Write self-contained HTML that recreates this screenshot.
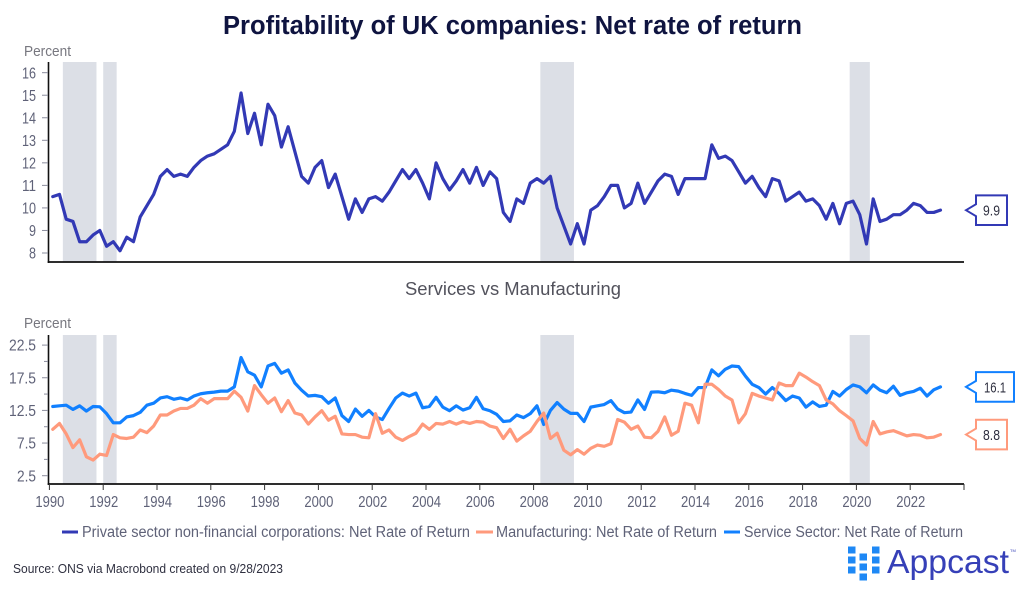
<!DOCTYPE html>
<html lang="en">
<head>
<meta charset="utf-8">
<title>Profitability of UK companies: Net rate of return</title>
<style>
html,body{margin:0;padding:0;background:#fff;}
svg{display:block;font-family:"Liberation Sans",sans-serif;}
</style>
</head>
<body>
<svg id="chart" xmlns="http://www.w3.org/2000/svg" width="1024" height="589" viewBox="0 0 1024 589">
  <rect x="0" y="0" width="1024" height="589" fill="#ffffff"/>
  <text x="223" y="34" font-size="25.5" font-weight="bold" fill="#0f1440" textLength="579" lengthAdjust="spacingAndGlyphs">Profitability of UK companies: Net rate of return</text>
  <text x="24" y="56" font-size="14.5" fill="#77777f" textLength="47" lengthAdjust="spacingAndGlyphs">Percent</text>
  <text x="405" y="295" font-size="18.5" fill="#52525c" textLength="216" lengthAdjust="spacingAndGlyphs">Services vs Manufacturing</text>
  <text x="24" y="328" font-size="14.5" fill="#77777f" textLength="47" lengthAdjust="spacingAndGlyphs">Percent</text>

  <g id="bands"></g>
  <g id="axes"></g>
  <g id="lines"></g>
  <g id="callouts"></g>

  <g>
    <g>
      <line x1="62" x2="78" y1="532" y2="532" stroke="#3239b5" stroke-width="3"/>
      <text x="82" y="537" font-size="15.5" fill="#5f6278" textLength="388" lengthAdjust="spacingAndGlyphs">Private sector non-financial corporations: Net Rate of Return</text>
    </g>
    <g>
      <line x1="476" x2="493" y1="532" y2="532" stroke="#ff9a7c" stroke-width="3"/>
      <text x="496" y="537" font-size="15.5" fill="#5f6278" textLength="221" lengthAdjust="spacingAndGlyphs">Manufacturing: Net Rate of Return</text>
    </g>
    <g>
      <line x1="724" x2="740" y1="532" y2="532" stroke="#1180ff" stroke-width="3"/>
      <text x="744" y="537" font-size="15.5" fill="#5f6278" textLength="219" lengthAdjust="spacingAndGlyphs">Service Sector: Net Rate of Return</text>
    </g>
  </g>

  <text x="13" y="573" font-size="12.5" fill="#2f3040" textLength="270" lengthAdjust="spacingAndGlyphs">Source: ONS via Macrobond created on 9/28/2023</text>

  <g>
    <g fill="#1e88f5">
      <rect x="848" y="546.5" width="7.5" height="7"/>
      <rect x="848" y="556.5" width="7.5" height="7"/>
      <rect x="848" y="566.5" width="7.5" height="7"/>
      <rect x="859.5" y="553.5" width="7.5" height="7"/>
      <rect x="859.5" y="563.5" width="7.5" height="7"/>
      <rect x="859.5" y="573.5" width="7.5" height="7"/>
      <rect x="872" y="546.5" width="7.5" height="7"/>
      <rect x="872" y="556.5" width="7.5" height="7"/>
      <rect x="872" y="566.5" width="7.5" height="7"/>
    </g>
    <text x="887" y="573" font-size="33" fill="#3640b8" textLength="122" lengthAdjust="spacingAndGlyphs">Appcast</text>
    <text x="1010" y="552" font-size="4" fill="#3640b8">TM</text>
  </g>
</svg>

<script>
const privateSector = [
  10.5,10.6,9.5,9.4, 8.5,8.5,8.8,9.0, 8.3,8.5,8.1,8.7, 8.5,9.6,10.1,10.6,
  11.4,11.7,11.4,11.5, 11.4,11.8,12.1,12.3, 12.4,12.6,12.8,13.4, 15.1,13.3,14.2,12.8,
  14.6,14.1,12.7,13.6, 12.5,11.4,11.1,11.8, 12.1,10.9,11.5,10.5, 9.5,10.4,9.8,10.4,
  10.5,10.3,10.7,11.2, 11.7,11.3,11.7,11.1, 10.4,12.0,11.3,10.8, 11.2,11.7,11.1,11.8,
  11.0,11.6,11.3,9.8, 9.4,10.4,10.2,11.1, 11.3,11.1,11.4,10.0, 9.2,8.4,9.3,8.4,
  9.9,10.1,10.5,11.0, 11.0,10.0,10.2,11.1, 10.2,10.7,11.2,11.5, 11.4,10.6,11.3,11.3,
  11.3,11.3,12.8,12.2, 12.3,12.1,11.6,11.1, 11.4,10.9,10.5,11.3, 11.2,10.3,10.5,10.7,
  10.3,10.4,10.1,9.5, 10.2,9.3,10.2,10.3, 9.7,8.4,10.4,9.4, 9.5,9.7,9.7,9.9,
  10.2,10.1,9.8,9.8, 9.9
];
const serviceSector = [
  13.1,13.2,13.3,12.65, 13.2,12.4,13.1,13.05, 12.0,10.6,10.6,11.5, 11.7,12.2,13.3,13.6,
  14.4,14.6,14.2,14.4, 14.1,14.7,15.05,15.2, 15.3,15.45,15.45,16.1, 20.6,18.4,17.9,16.1,
  19.3,19.7,18.2,18.7, 16.7,15.6,14.7,14.8, 14.6,13.6,14.4,11.7, 10.8,12.7,11.6,12.5,
  11.5,11.1,12.8,14.4, 15.15,14.7,15.15,12.9, 13.1,14.5,13,12.45, 13.2,12.55,12.9,14.5,
  12.75,12.45,11.9,10.8, 10.9,11.8,11.4,12, 13.2,10.35,12.5,13.7, 12.7,12.05,12.05,10.8,
  13,13.2,13.4,14, 12.7,12.15,12.25,14.1, 12.65,15.3,15.35,15.2, 15.6,15.45,15.1,14.8,
  16,16,18.7,17.8, 18.8,19.3,19.2,17.75, 16.5,16,15,16, 15.1,14,14.7,14.4,
  13,13.8,13.1,13.3, 15.4,14.7,15.7,16.4, 16.1,15.2,16.4,15.6, 15.2,16.2,14.8,15.2,
  15.4,15.9,14.7,15.65, 16.1
];
const manufacturing = [
  9.6,10.5,8.9,6.8, 8.0,5.4,4.9,5.8, 5.6,8.8,8.3,8.2, 8.4,9.5,9.1,10.1,
  11.8,11.8,12.4,12.8, 12.8,13.3,14.3,13.6, 14.3,14.3,14.3,15.45, 14.5,12.4,16.3,14.9,
  13.6,14.4,12.3,14.0, 12.1,11.8,10.4,11.5, 12.45,11,11.6,8.9, 8.8,8.8,8.4,8.3,
  12.0,9,9.5,8.4, 7.9,8.5,9,10.4, 9.6,10.5,10.4,10.8, 10.4,10.8,10.5,10.8,
  10.7,10.1,9.85,8.2, 9.6,7.8,8.6,9.3, 10.8,12.1,8.2,9, 6.4,5.7,6.5,5.8,
  6.7,7.2,7,7.4, 11.1,10.7,9.6,10.1, 8.4,8.3,9.3,11.5, 8.7,9.3,13.6,13.3,
  10.6,16.5,16.5,15.7, 14.7,14.1,10.6,12, 15.1,14.7,14.4,14.1, 16.7,16.3,16.3,18.2,
  17.6,16.9,16.3,14.1, 13.5,12.45,11.7,10.9, 8.2,7.2,10.8,8.9, 9.2,9.4,9,8.6,
  8.8,8.7,8.3,8.4, 8.8
];
const recessionStarts = [1990.5, 1992, 2008.25, 2019.75];
const recessionEnds = [1991.75, 1992.5, 2009.5, 2020.5];
const xTickYears = [1990,1992,1994,1996,1998,2000,2002,2004,2006,2008,2010,2012,2014,2016,2018,2020,2022,2024];
const xTickLabels = ["1990","1992","1994","1996","1998","2000","2002","2004","2006","2008","2010","2012","2014","2016","2018","2020","2022",""];
const topTicks = [8,9,10,11,12,13,14,15,16];
const bottomMajorTicks = [2.5,7.5,12.5,17.5,22.5];
const bottomMinorTicks = [5,10,15,20];

const NS = "http://www.w3.org/2000/svg";
const xOf = function (year) { return 49.4 + (year - 1990) * 26.9; };
const yTop = function (v) { return 253 - (v - 8) * 22.54; };
const yBottom = function (v) { return 475.7 - (v - 2.5) * 6.53; };
const periodOf = function (i) { return 1990 + (i + 0.5) / 4; };

function make(tag, parent, props) {
  const el = document.createElementNS(NS, tag);
  Object.keys(props).forEach(function (k) { el.setAttribute(k, props[k]); });
  parent.appendChild(el);
  return el;
}

const bands = document.getElementById("bands");
const axes = document.getElementById("axes");
const lines = document.getElementById("lines");
const callouts = document.getElementById("callouts");

const panels = [
  { key: "top", y0: 62, y1: 262 },
  { key: "bottom", y0: 335, y1: 484 }
];
panels.forEach(function (p) {
  recessionStarts.forEach(function (s, i) {
    const r = make("rect", bands, { x: xOf(s), y: p.y0, width: xOf(recessionEnds[i]) - xOf(s), height: p.y1 - p.y0, fill: "#dcdfe6" });
    
    
  });
  const left = make("line", axes, { x1: 48.5, x2: 48.5, y1: p.y0, y2: p.y1 + 1, stroke: "#111", "stroke-width": 1.6 });
  
  
  const base = make("line", axes, { x1: 47.7, x2: xOf(2024), y1: p.y1, y2: p.y1, stroke: "#111", "stroke-width": 1.8 });
  
  
});

function yTick(parent, yPos, x0, label, width, color) {
  const t = make("line", parent, { x1: x0, x2: 48, y1: yPos, y2: yPos, stroke: "#8a8c9c", "stroke-width": 1 });
  
  
  if (label) {
    const l = make("text", parent, { x: 36, y: yPos + 5.6, "text-anchor": "end", "font-size": 16, fill: color, textLength: width, lengthAdjust: "spacingAndGlyphs" });
    l.textContent = label;
    
    
  }
}
topTicks.forEach(function (v) {
  yTick(axes, yTop(v), 42, String(v), String(v).length * 7, "#5f6278");
});
bottomMajorTicks.forEach(function (v) {
  const s = v.toFixed(1);
  yTick(axes, yBottom(v), 42, s, s.length === 4 ? 27 : 19, "#5f6278");
});
bottomMinorTicks.forEach(function (v) {
  yTick(axes, yBottom(v), 44, "", 0, "#5f6278");
});

xTickYears.forEach(function (yr, i) {
  const t = make("line", axes, { x1: xOf(yr), x2: xOf(yr), y1: 484, y2: 490, stroke: "#333", "stroke-width": 1 });
  
  
  if (xTickLabels[i]) {
    const l = make("text", axes, { x: xOf(yr) - 14, y: 507, "font-size": 16, fill: "#5f6278", textLength: 29, lengthAdjust: "spacingAndGlyphs" });
    l.textContent = xTickLabels[i];
    
    
  }
});

function drawLine(values, yFn, color) {
  const pts = values.map(function (v, i) { return xOf(periodOf(i)).toFixed(2) + "," + yFn(v).toFixed(2); }).join(" ");
  return make("polyline", lines, { points: pts, fill: "none", stroke: color, "stroke-width": 3.2, "stroke-linejoin": "round", "stroke-linecap": "round" });
}
const linePrivate = drawLine(privateSector, yTop, "#3239b5");


const lineService = drawLine(serviceSector, yBottom, "#1180ff");


const lineManufacturing = drawLine(manufacturing, yBottom, "#ff9a7c");



function drawCallout(value, yPos, color, boxWidth) {
  const g = make("g", callouts, {});
  const x0 = 976, tip = 966, h = 14.8, n = 6;
  const d = "M" + tip + " " + yPos + " L" + x0 + " " + (yPos - n) + " L" + x0 + " " + (yPos - h) +
            " L" + (x0 + boxWidth) + " " + (yPos - h) + " L" + (x0 + boxWidth) + " " + (yPos + h) +
            " L" + x0 + " " + (yPos + h) + " L" + x0 + " " + (yPos + n) + " Z";
  const shape = make("path", g, { d: d, fill: "#fff", stroke: color, "stroke-width": 2 });
  
  
  const s = value.toFixed(1);
  const txt = make("text", g, { x: x0 + boxWidth / 2, y: yPos + 5.4, "text-anchor": "middle", "font-size": 15, fill: "#2f3040", textLength: s.length === 4 ? 22 : 17, lengthAdjust: "spacingAndGlyphs" });
  txt.textContent = s;
  
  
  return g;
}
const lastPrivate = privateSector[privateSector.length - 1];
const lastService = serviceSector[serviceSector.length - 1];
const lastManufacturing = manufacturing[manufacturing.length - 1];
const calloutPrivate = drawCallout(lastPrivate, yTop(lastPrivate), "#3239b5", 31);


const calloutService = drawCallout(lastService, yBottom(lastService), "#1180ff", 38);


const calloutManufacturing = drawCallout(lastManufacturing, yBottom(lastManufacturing), "#ff9a7c", 31);


</script>
</body>
</html>
